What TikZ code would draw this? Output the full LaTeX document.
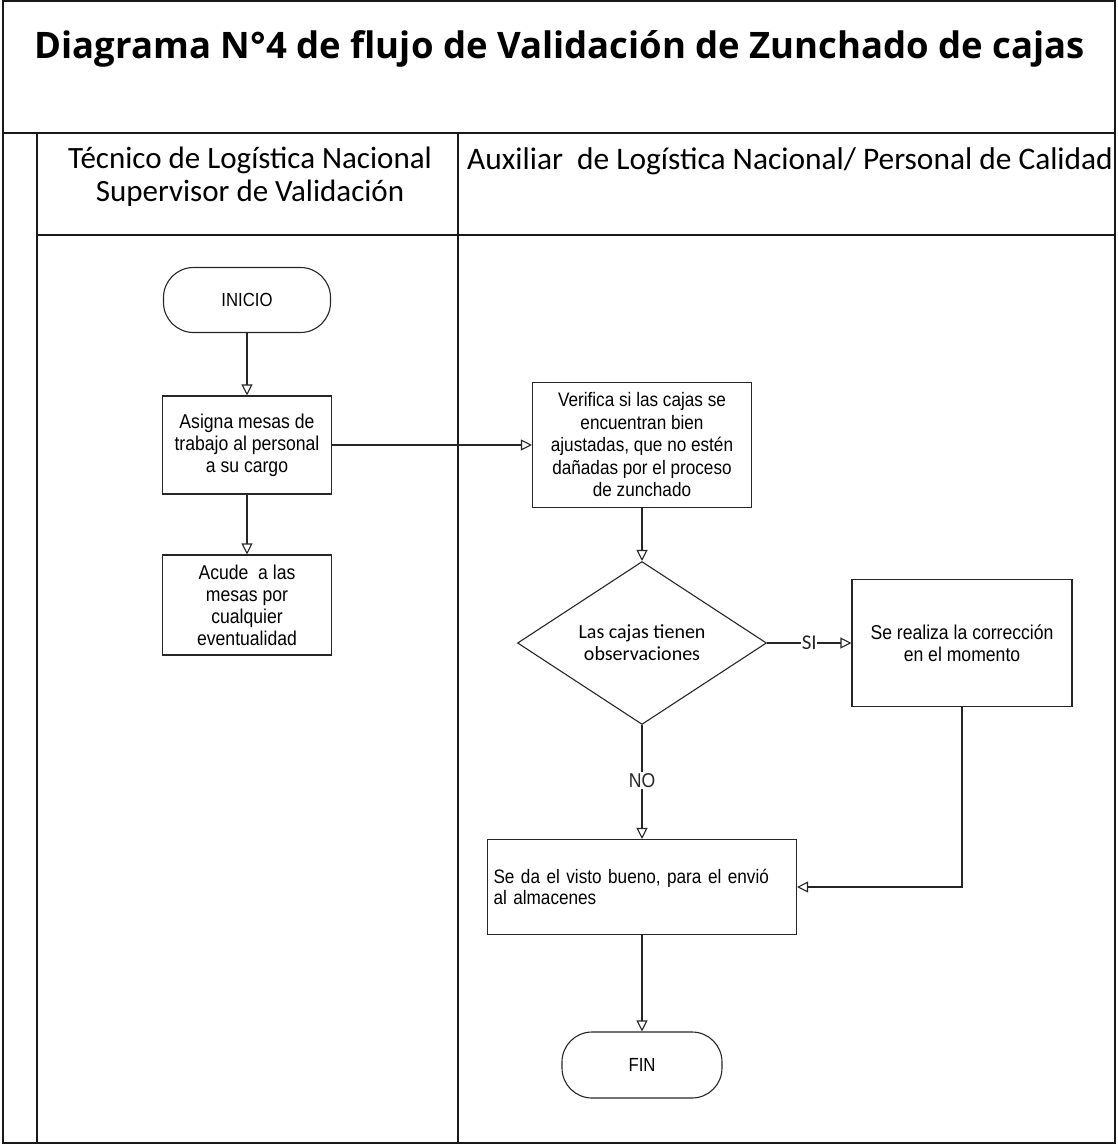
\documentclass[tikz,border=0pt]{standalone}
\usepackage{fontspec}
\setmainfont{Liberation Sans}
\newfontfamily\boxfont{Liberation Sans}[FakeStretch=0.88]
\newfontfamily\titlefont{Open Sans}
\newfontfamily\calib{Carlito}
\usetikzlibrary{arrows.meta,shapes.geometric}
\begin{document}
\begin{tikzpicture}[x=1pt,y=-1pt,
  frame/.style={line width=1.6pt,black!90},
  boxnode/.style={draw=black!85,line width=1.1pt,rectangle,align=center,inner sep=3pt,
    font=\boxfont\fontsize{20}{22}\selectfont},
  termnode/.style={draw=black!85,line width=1.1pt,rectangle,rounded corners=30pt,align=center,
    font=\boxfont\fontsize{19}{22}\selectfont},
  decnode/.style={draw=black!85,line width=1.1pt,diamond,align=center,inner sep=0pt,
    font=\calib\fontsize{20}{22}\selectfont},
  conn/.style={line width=1.1pt,black!85,-{Triangle[open,length=11pt,width=11pt]}},
  lbl/.style={fill=white,inner sep=1.5pt}
]
\useasboundingbox (0,0) rectangle (1117,1146);
% frame
\draw[frame] (3,1) rectangle (1115,1143);
\draw[frame] (3,133) -- (1115,133);
\draw[frame] (37,133) -- (37,1143);
\draw[frame] (458,133) -- (458,1143);
\draw[frame] (37,235) -- (1115,235);
% title and headers
\node[font=\titlefont\bfseries\fontsize{36.5}{40}\selectfont] (title) at (560,49) {Diagrama N°4 de flujo de Validación de Zunchado de cajas};
\node[font=\calib\fontsize{31}{33}\selectfont,align=center] (h1) at (250,177) {Técnico de Logística Nacional\\Supervisor de Validación};
\node[font=\calib\fontsize{31.4}{33}\selectfont,anchor=west,inner sep=0pt] (h2) at (467,161) {Auxiliar\ \ de Logística Nacional/ Personal de Calidad};
% nodes
\node[termnode,minimum width=167pt,minimum height=65pt] (inicio) at (247,300) {INICIO};
\node[boxnode,minimum width=169pt,minimum height=98pt] (asigna) at (247,445) {Asigna mesas de\\trabajo al personal\\a su cargo};
\node[boxnode,minimum width=169pt,minimum height=100pt] (acude) at (247,605) {Acude\ \ a las\\mesas por\\cualquier\\eventualidad};
\node[boxnode,minimum width=219pt,minimum height=125pt,font=\boxfont\fontsize{19.5}{22.5}\selectfont] (verif) at (642,445) {Verifica si las cajas se\\encuentran bien\\ajustadas, que no estén\\dañadas por el proceso\\de zunchado};
\node[decnode,minimum width=249pt,minimum height=157pt] (dec) at (642,643) {Las cajas tienen\\observaciones};
\node[boxnode,minimum width=220pt,minimum height=127pt] (real) at (962,643) {Se realiza la corrección\\en el momento};
\node[boxnode,minimum width=309pt,minimum height=95pt,align=left,text width=297pt,font=\boxfont\fontsize{19.5}{21.5}\selectfont] (seda) at (642,887) {Se da el visto bueno, para el envió\\al almacenes};
\node[termnode,minimum width=160pt,minimum height=66pt] (fin) at (642,1065) {FIN};
% connectors
\draw[conn] (inicio) -- (asigna);
\draw[conn] (asigna) -- (acude);
\draw[conn] (asigna) -- (verif);
\draw[conn] (verif) -- (dec);
\draw[conn] (dec) -- node[lbl,font=\calib\fontsize{21}{22}\selectfont,pos=0.5,inner sep=0.5pt] (si) {SI} (real);
\draw[conn] (dec) -- node[lbl,font=\boxfont\fontsize{20}{22}\selectfont,pos=0.49] (no) {NO} (seda);
\draw[conn] (real.south) |- (seda.east);
\draw[conn] (seda) -- (fin);
\end{tikzpicture}
\end{document}
